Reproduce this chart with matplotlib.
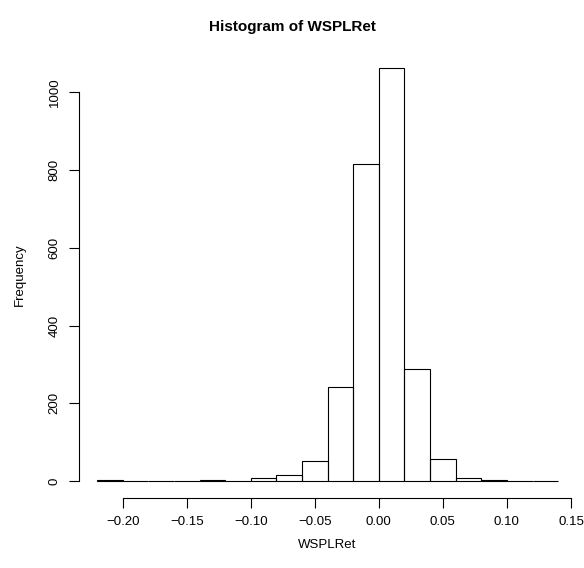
import numpy as np
import matplotlib.pyplot as plt

plt.rcParams['font.family'] = ['Liberation Sans', 'DejaVu Sans']

# histogram of WSPLRet, bins of width 0.02
bin_edges = np.round(np.arange(-0.22, 0.1401, 0.02), 2)
counts = [2, 0, 0, 0, 2, 1, 7, 15, 51, 242, 816, 1063, 289, 58, 9, 2, 1, 1]
x_ticks = [-0.20, -0.15, -0.10, -0.05, 0.00, 0.05, 0.10, 0.15]
y_ticks = [0, 200, 400, 600, 800, 1000]

fig = plt.figure(figsize=(5.84, 5.68), dpi=100)
ax = fig.add_axes([0.1346, 0.1239, 0.8527, 0.7858])

ax.bar(bin_edges[:-1], counts, width=0.02, align='edge', fill=False,
       edgecolor='black', linewidth=0.8)

# R style padding of 4%
xr = bin_edges[-1] - bin_edges[0]
ax.set_xlim(bin_edges[0] - 0.04 * xr, bin_edges[-1] + 0.04 * xr)
ymax = max(counts)
ax.set_ylim(-0.04 * ymax, ymax * 1.04)

for s in ax.spines.values():
    s.set_visible(False)
ax.spines['bottom'].set_visible(True)
ax.spines['left'].set_visible(True)
ax.spines['bottom'].set_bounds(x_ticks[0], x_ticks[-1])
ax.spines['left'].set_bounds(y_ticks[0], y_ticks[-1])
ax.spines['bottom'].set_linewidth(0.8)
ax.spines['left'].set_linewidth(0.8)

ax.set_xticks(x_ticks)
ax.xaxis.set_major_formatter(plt.FuncFormatter(lambda v, p: ('%.2f' % v).replace('-', '\u2212')))
ax.set_yticks(y_ticks)
ax.set_yticklabels([str(v) for v in y_ticks], rotation=90, va='center')
ax.tick_params(axis='both', direction='out', length=7, width=0.8, labelsize=9.5, pad=6)

ax.set_xlabel('WSPLRet', fontsize=9.5, labelpad=8)
ax.set_ylabel('Frequency', fontsize=9.5, labelpad=16)
fig.suptitle('Histogram of WSPLRet', fontsize=11, fontweight='bold', y=0.965)

fig.savefig('out.png', dpi=100)
